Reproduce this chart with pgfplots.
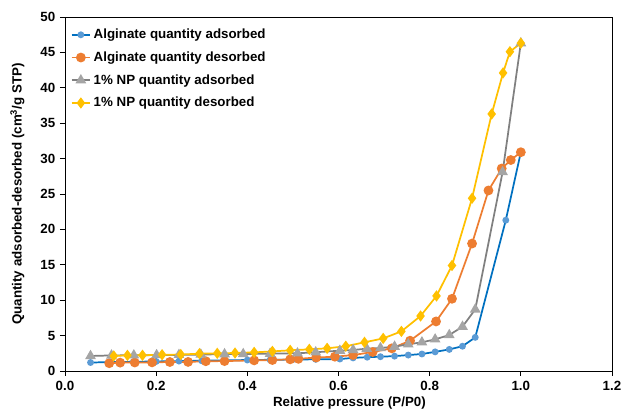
\documentclass[border=0pt]{standalone}
\usepackage{fontspec}
\setmainfont{Liberation Sans}
\usepackage{pgfplots}
\pgfplotsset{compat=1.18}
\definecolor{cblue}{HTML}{0070C0}
\definecolor{cbluem}{HTML}{5B9BD5}
\definecolor{corange}{HTML}{ED7D31}
\definecolor{cgray}{HTML}{808080}
\definecolor{cgraym}{HTML}{A5A5A5}
\definecolor{cyellow}{HTML}{FFC000}
\begin{document}
\begin{tikzpicture}
\begin{axis}[
  at={(0,0)}, anchor=south west,
  scale only axis, width=410.25pt, height=265.5pt,
  xmin=0, xmax=1.2, ymin=0, ymax=50,
  xtick={0,0.2,...,1.2}, ytick={0,5,...,50},
  tick align=outside, tick pos=left,
  major tick length=3.75pt,
  axis line style={black, line width=0.6pt},
  tick style={black, line width=0.6pt},
  /pgf/number format/assume math mode=true,
  xticklabel style={font=\bfseries, /pgf/number format/.cd, fixed, fixed zerofill, precision=1},
  yticklabel style={font=\bfseries},
  xlabel={\bfseries Relative pressure (P/P0)},
  ylabel={\bfseries Quantity adsorbed-desorbed (cm\textsuperscript{3}/g STP)},
  xlabel style={at={(axis description cs:0.52,-0.09)}, anchor=center},
  ylabel style={at={(axis description cs:-0.087,0.5)}, anchor=center},
  legend style={draw=none, fill=none, at={(axis description cs:0.005,0.982)}, anchor=north west,
    font=\bfseries, row sep=4.3pt, inner sep=2pt},
  legend cell align=left,
  legend image code/.code={\draw[mark repeat=2,mark phase=2] plot coordinates {(0pt,0pt) (7pt,0pt) (14pt,0pt)};},
]
\addplot[cblue, line width=1.3pt, mark=*, mark size=1.9pt, mark options={fill=cbluem, draw=cbluem}] coordinates {
(0.056,1.20) (0.10,1.25) (0.15,1.30) (0.20,1.35) (0.25,1.40) (0.30,1.45) (0.35,1.50) (0.40,1.55) (0.45,1.58) (0.50,1.62) (0.55,1.65) (0.603,1.69) (0.632,1.85) (0.663,1.95) (0.692,2.02) (0.723,2.10) (0.753,2.25) (0.783,2.40) (0.812,2.70) (0.843,3.05) (0.872,3.50) (0.90,4.75) (0.967,21.3) (1.0,30.9)
};
\addlegendentry{Alginate quantity adsorbed}
\addplot[corange, line width=1.3pt, mark=*, mark size=3pt, mark options={fill=corange, draw=corange}] coordinates {
(0.097,1.10) (0.121,1.18) (0.153,1.20) (0.191,1.22) (0.230,1.27) (0.270,1.28) (0.309,1.38) (0.350,1.40) (0.415,1.50) (0.455,1.55) (0.494,1.65) (0.512,1.72) (0.551,1.90) (0.592,2.02) (0.632,2.25) (0.675,2.68) (0.717,3.20) (0.757,4.28) (0.814,7.0) (0.849,10.2) (0.893,18.0) (0.929,25.5) (0.958,28.6) (0.978,29.8) (1.0,30.9)
};
\addlegendentry{Alginate quantity desorbed}
\addplot[cgray, line width=1.3pt, mark=triangle*, mark size=3.4pt, mark options={fill=cgraym, draw=cgraym}] coordinates {
(0.056,2.12) (0.102,2.20) (0.151,2.22) (0.201,2.25) (0.25,2.28) (0.298,2.32) (0.35,2.38) (0.391,2.40) (0.45,2.45) (0.51,2.50) (0.55,2.65) (0.603,2.87) (0.632,2.97) (0.662,3.15) (0.692,3.25) (0.723,3.44) (0.753,3.77) (0.783,4.05) (0.812,4.47) (0.843,5.08) (0.872,6.26) (0.90,8.7) (0.96,28.1) (1.0,46.3)
};
\addlegendentry{1\% NP quantity adsorbed}
\addplot[cyellow, line width=1.3pt, mark=diamond*, mark size=3.2pt, mark options={fill=cyellow, draw=cyellow}] coordinates {
(0.107,2.12) (0.137,2.21) (0.170,2.22) (0.213,2.30) (0.254,2.32) (0.295,2.45) (0.334,2.49) (0.373,2.54) (0.415,2.63) (0.455,2.77) (0.494,2.92) (0.536,3.06) (0.575,3.20) (0.616,3.50) (0.657,4.05) (0.698,4.60) (0.738,5.60) (0.780,7.77) (0.815,10.6) (0.849,14.9) (0.893,24.4) (0.936,36.3) (0.961,42.1) (0.976,45.1) (1.0,46.3)
};
\addlegendentry{1\% NP quantity desorbed}
\end{axis}
\pgfresetboundingbox
\path[use as bounding box] (-48.75pt,-32.25pt) rectangle (417.75pt,278.25pt);
\end{tikzpicture}
\end{document}
